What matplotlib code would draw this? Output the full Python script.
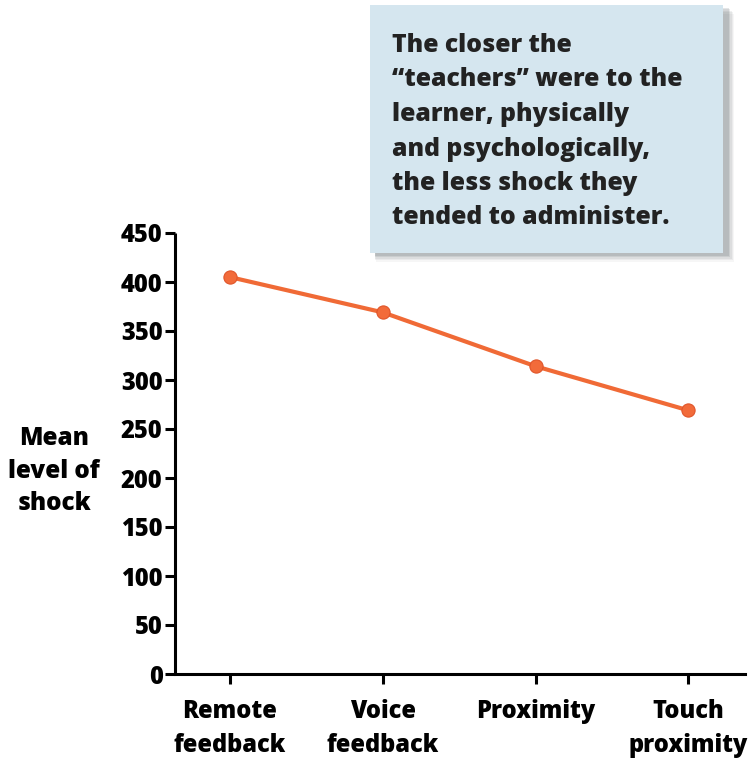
import matplotlib
matplotlib.use("Agg")
import matplotlib.pyplot as plt
from matplotlib.patches import Rectangle

# Milgram obedience study: mean shock level by proximity condition
conditions = ["Remote\nfeedback", "Voice\nfeedback", "Proximity", "Touch\nproximity"]
mean_shock = [405, 369, 314, 269]
y_ticks = [0, 50, 100, 150, 200, 250, 300, 350, 400, 450]

note = ("The closer the\n\u201cteachers\u201d were to the\nlearner, physically\n"
        "and psychologically,\nthe less shock they\ntended to administer.")

FONT = ["Open Sans", "DejaVu Sans"]
WEIGHT = 800
LINE_COLOR = "#f06a36"

fig = plt.figure(figsize=(7.51, 7.62), dpi=100)
ax = fig.add_axes([175 / 751, 1 - 674 / 762, (745 - 175) / 751, (674 - 233) / 762])

x = list(range(len(conditions)))
ax.plot(x, mean_shock, color=LINE_COLOR, lw=3.0, solid_capstyle="round", zorder=3)
ax.plot(x, mean_shock, ls="none", marker="o", ms=9.5, mfc="#f26b3a",
        mec="#e0552a", mew=0.8, zorder=4)

ax.set_xlim(-0.36, 3.37)
ax.set_ylim(0, 450)
ax.set_yticks(y_ticks)
ax.set_yticklabels([str(v) for v in y_ticks], fontfamily=FONT, fontweight=WEIGHT,
                   fontsize=17)
ax.set_xticks(x)
ax.set_xticklabels(conditions, fontfamily=FONT, fontweight=WEIGHT, fontsize=17,
                   linespacing=1.45)

for side in ("top", "right"):
    ax.spines[side].set_visible(False)
for side in ("left", "bottom"):
    ax.spines[side].set_linewidth(2.2)
    ax.spines[side].set_color("black")
ax.tick_params(axis="both", direction="out", length=7, width=2.2, colors="black")
ax.tick_params(axis="y", pad=2)
ax.tick_params(axis="x", pad=11)
ax.spines["left"].set_capstyle("butt")

fig.text(54 / 751, 1 - 471 / 762, "Mean\nlevel of\nshock", ha="center", va="center",
         fontfamily=FONT, fontweight=WEIGHT, fontsize=17.5, linespacing=1.42)

# Annotation box with soft drop shadow
bx0, by0, bx1, by1 = 370, 5, 723, 253
for i, a in enumerate([0.05, 0.07, 0.09, 0.12, 0.15]):
    off = 9 - i * 1.6
    fig.patches.append(Rectangle(((bx0 + 4 + off * 0.2) / 751, 1 - (by1 + off) / 762),
                                 (bx1 - bx0 + off * 0.6) / 751, (by1 - by0) / 762,
                                 transform=fig.transFigure, facecolor="#505a60",
                                 edgecolor="none", alpha=a, zorder=1))
fig.patches.append(Rectangle((bx0 / 751, 1 - by1 / 762), (bx1 - bx0) / 751,
                             (by1 - by0) / 762, transform=fig.transFigure,
                             facecolor="#d5e6ef", edgecolor="none", zorder=2))
fig.text(392 / 751, 1 - 33 / 762, note, ha="left", va="top", fontfamily=FONT,
         fontweight=WEIGHT, fontsize=17.8, color="#222222", linespacing=1.5, zorder=3)

fig.savefig("out.png", dpi=100)
